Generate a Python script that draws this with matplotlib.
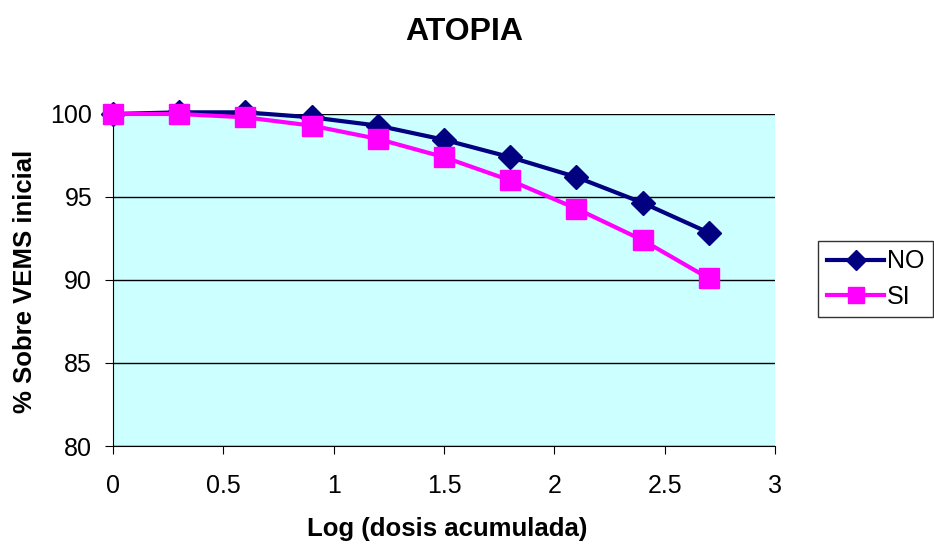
import matplotlib
matplotlib.use("Agg")
import matplotlib.pyplot as plt
from matplotlib.lines import Line2D

plt.rcParams['font.family'] = ['Liberation Sans', 'DejaVu Sans']

x_vals = [0, 0.3, 0.6, 0.9, 1.2, 1.5, 1.8, 2.1, 2.4, 2.7]
no_vals = [100.0, 100.1, 100.1, 99.8, 99.3, 98.45, 97.4, 96.2, 94.65, 92.85]
si_vals = [100.0, 100.0, 99.8, 99.3, 98.5, 97.4, 96.0, 94.3, 92.4, 90.1]
series_names = ["NO", "SI"]
title = "ATOPIA"
xlabel = "Log (dosis acumulada)"
ylabel = "% Sobre VEMS inicial"

fig = plt.figure(figsize=(9.34, 5.46), dpi=100)
ax = fig.add_axes([113/934, 1-446/546, (775-113)/934, (446-114)/546])
ax.set_facecolor('#CCFFFF')

ax.plot(x_vals, no_vals, color='#000080', lw=3, marker='D', ms=12, mfc='#000080', mec='#000080', clip_on=False, zorder=3)
ax.plot(x_vals, si_vals, color='#FF00FF', lw=3, marker='s', ms=14, mfc='#FF00FF', mec='#FF00FF', clip_on=False, zorder=4)

ax.set_xlim(0, 3)
ax.set_ylim(80, 100)
ax.set_xticks([0, 0.5, 1, 1.5, 2, 2.5, 3])
ax.set_xticklabels(['0', '0.5', '1', '1.5', '2', '2.5', '3'])
ax.set_yticks([80, 85, 90, 95, 100])
ax.yaxis.grid(True, color='black', lw=1)
ax.set_axisbelow(True)
for s in ['top', 'right']:
    ax.spines[s].set_visible(False)
ax.spines['left'].set_color('black')
ax.spines['bottom'].set_color('black')
ax.tick_params(axis='both', direction='out', length=6, labelsize=18, color='black')
ax.tick_params(axis='x', pad=14)
ax.tick_params(axis='y', pad=9)

fig.text(464/934, 1-32/546, title, ha='center', va='center', fontsize=23, fontweight='bold')
fig.text(447/934, 1-529/546, xlabel, ha='center', va='center', fontsize=18.5, fontweight='bold')
fig.text(25/934, 1-281/546, ylabel, ha='center', va='center', fontsize=18.5, fontweight='bold', rotation=90)

handles = [Line2D([], [], color='#000080', lw=3, marker='D', ms=10),
           Line2D([], [], color='#FF00FF', lw=3, marker='s', ms=11)]
leg = fig.legend(handles, series_names, loc='center left', bbox_to_anchor=(818/934, 1-279/546),
                 frameon=True, fancybox=False, edgecolor='black', fontsize=18,
                 handlelength=2.3, borderpad=0.35, labelspacing=0.45, handletextpad=0.1,
                 borderaxespad=0)
leg.get_frame().set_linewidth(1)

fig.savefig('out.png', dpi=100)
